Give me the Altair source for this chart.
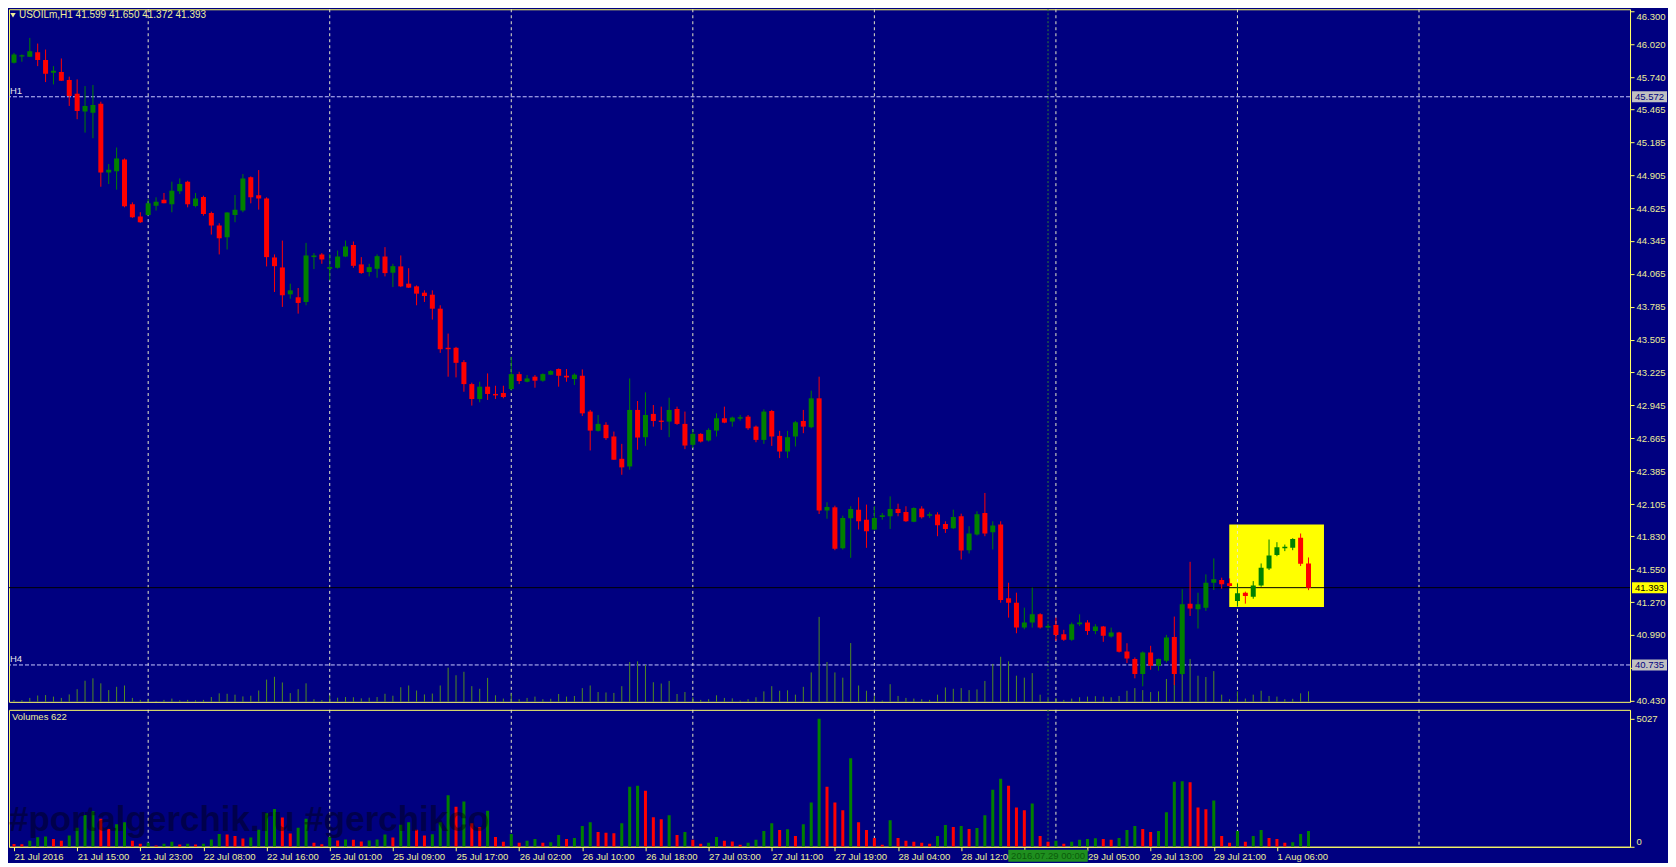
import altair as alt
import pandas as pd
import numpy as np

# ---------------- data ----------------
opens = [45.861, 45.915, 45.912, 45.952, 45.884, 45.776, 45.782, 45.714, 45.598, 45.446,
         45.437, 45.513, 44.928, 44.937, 45.038, 44.657, 44.552, 44.566, 44.645, 44.696,
         44.657, 44.767, 44.849, 44.642, 44.719, 44.583, 44.476, 44.377, 44.566, 44.603,
         44.886, 44.733, 44.707, 44.204, 44.119, 43.890, 43.865, 43.825, 44.207, 44.230,
         44.108, 44.116, 44.212, 44.311, 44.145, 44.080, 44.108, 44.212, 44.074, 44.128,
         43.981, 43.958, 43.904, 43.887, 43.768, 43.435, 43.435, 43.313, 43.126, 42.999,
         43.104, 43.042, 43.050, 43.084, 43.211, 43.146, 43.189, 43.155, 43.206, 43.254,
         43.197, 43.169, 43.197, 42.892, 42.728, 42.779, 42.680, 42.490, 42.425, 42.906,
         42.674, 42.872, 42.815, 42.807, 42.914, 42.787, 42.609, 42.702, 42.646, 42.730,
         42.835, 42.807, 42.832, 42.849, 42.764, 42.651, 42.897, 42.685, 42.552, 42.680,
         42.812, 42.759, 43.005, 42.050, 42.077, 41.729, 41.984, 42.057, 41.972, 41.888,
         41.995, 42.001, 42.063, 42.037, 41.955, 42.066, 42.006, 42.015, 41.936, 41.899,
         42.001, 41.712, 41.845, 42.029, 41.865, 41.930, 41.302, 41.265, 41.053, 41.096,
         41.166, 41.053, 41.076, 40.997, 40.949, 41.082, 41.096, 41.025, 41.062, 40.977,
         41.011, 40.850, 40.785, 40.657, 40.841, 40.728, 40.771, 40.974, 40.657, 41.257,
         41.209, 41.223, 41.435, 41.458, 41.430, 41.280, 41.350, 41.316, 41.412, 41.557,
         41.670, 41.729, 41.732, 41.817, 41.599]
highs = [45.946, 45.932, 46.073, 46.025, 45.974, 45.833, 45.898, 45.743, 45.720, 45.663,
         45.672, 45.530, 44.999, 45.140, 45.047, 44.673, 44.589, 44.702, 44.716, 44.753,
         44.849, 44.877, 44.857, 44.753, 44.730, 44.594, 44.495, 44.589, 44.736, 44.914,
         44.894, 44.948, 44.716, 44.230, 44.348, 43.981, 43.944, 44.328, 44.241, 44.241,
         44.235, 44.263, 44.348, 44.340, 44.207, 44.150, 44.230, 44.292, 44.150, 44.221,
         44.113, 43.966, 43.924, 43.924, 43.797, 43.556, 43.443, 43.330, 43.138, 43.146,
         43.217, 43.112, 43.112, 43.358, 43.231, 43.203, 43.203, 43.217, 43.245, 43.259,
         43.254, 43.217, 43.251, 42.906, 42.863, 42.801, 42.722, 42.617, 43.174, 42.982,
         43.056, 42.948, 42.934, 43.010, 42.934, 42.892, 42.742, 42.708, 42.750, 42.877,
         42.934, 42.849, 42.863, 42.863, 42.773, 42.911, 42.906, 42.728, 42.728, 42.812,
         42.906, 43.070, 43.189, 42.120, 42.091, 42.006, 42.086, 42.162, 42.100, 42.086,
         42.029, 42.170, 42.108, 42.086, 42.077, 42.086, 42.035, 42.035, 41.958, 42.057,
         42.023, 41.916, 42.043, 42.199, 41.958, 41.958, 41.435, 41.350, 41.223, 41.393,
         41.175, 41.087, 41.138, 41.034, 41.096, 41.166, 41.116, 41.082, 41.067, 41.053,
         41.017, 40.920, 40.799, 40.850, 40.898, 40.790, 40.991, 41.147, 41.379, 41.613,
         41.350, 41.506, 41.642, 41.478, 41.472, 41.430, 41.359, 41.449, 41.599, 41.803,
         41.780, 41.760, 41.814, 41.854, 41.650]
lows = [45.855, 45.870, 45.912, 45.833, 45.697, 45.677, 45.706, 45.494, 45.381, 45.267,
        45.219, 44.806, 44.829, 44.781, 44.631, 44.541, 44.498, 44.560, 44.603, 44.665,
        44.589, 44.744, 44.631, 44.631, 44.560, 44.399, 44.230, 44.272, 44.504, 44.589,
        44.665, 44.611, 44.128, 43.910, 43.783, 43.853, 43.726, 43.797, 44.105, 44.150,
        44.009, 44.108, 44.207, 44.116, 44.065, 44.043, 44.031, 44.043, 43.952, 43.952,
        43.944, 43.797, 43.825, 43.675, 43.392, 43.189, 43.183, 43.061, 42.943, 42.971,
        42.991, 42.999, 43.005, 43.070, 43.126, 43.141, 43.095, 43.146, 43.203, 43.104,
        43.146, 43.118, 42.855, 42.561, 42.722, 42.651, 42.482, 42.354, 42.397, 42.567,
        42.600, 42.764, 42.736, 42.674, 42.779, 42.572, 42.581, 42.629, 42.637, 42.680,
        42.793, 42.764, 42.815, 42.736, 42.631, 42.617, 42.600, 42.496, 42.496, 42.595,
        42.708, 42.750, 42.020, 41.980, 41.712, 41.718, 41.647, 41.888, 41.732, 41.882,
        41.972, 41.893, 42.001, 41.953, 41.950, 41.981, 41.987, 41.831, 41.859, 41.893,
        41.633, 41.684, 41.837, 41.831, 41.718, 41.265, 41.138, 41.005, 41.039, 41.053,
        41.045, 41.045, 40.940, 40.940, 40.940, 41.067, 40.991, 40.997, 40.932, 40.968,
        40.841, 40.751, 40.621, 40.553, 40.694, 40.686, 40.756, 40.564, 40.649, 41.152,
        41.045, 41.195, 41.373, 41.384, 41.401, 41.232, 41.257, 41.299, 41.401, 41.543,
        41.661, 41.704, 41.712, 41.577, 41.372]
closes = [45.932, 45.926, 45.960, 45.884, 45.768, 45.793, 45.709, 45.579, 45.451, 45.494,
          45.502, 44.928, 44.951, 45.047, 44.640, 44.546, 44.504, 44.665, 44.679, 44.665,
          44.772, 44.829, 44.657, 44.707, 44.574, 44.476, 44.368, 44.586, 44.611, 44.877,
          44.716, 44.707, 44.207, 44.130, 43.882, 43.924, 43.817, 44.221, 44.221, 44.187,
          44.122, 44.212, 44.297, 44.133, 44.071, 44.122, 44.215, 44.071, 44.130, 43.958,
          43.947, 43.896, 43.876, 43.768, 43.423, 43.423, 43.307, 43.126, 42.999, 43.104,
          43.042, 43.030, 43.016, 43.211, 43.152, 43.174, 43.155, 43.211, 43.237, 43.197,
          43.183, 43.206, 42.877, 42.730, 42.787, 42.666, 42.482, 42.417, 42.906, 42.671,
          42.863, 42.812, 42.804, 42.906, 42.787, 42.603, 42.702, 42.637, 42.736, 42.835,
          42.798, 42.841, 42.844, 42.750, 42.651, 42.892, 42.680, 42.552, 42.674, 42.801,
          42.764, 43.005, 42.050, 42.080, 41.724, 41.987, 42.063, 41.958, 41.873, 41.987,
          42.009, 42.063, 42.029, 41.958, 42.071, 41.992, 42.018, 41.924, 41.893, 41.995,
          41.709, 41.854, 42.018, 41.854, 41.922, 41.288, 41.265, 41.053, 41.096, 41.166,
          41.053, 41.067, 40.991, 40.949, 41.082, 41.096, 41.025, 41.062, 40.983, 41.011,
          40.847, 40.790, 40.657, 40.841, 40.728, 40.785, 40.968, 40.657, 41.251, 41.215,
          41.251, 41.435, 41.464, 41.421, 41.407, 41.345, 41.322, 41.412, 41.562, 41.667,
          41.738, 41.741, 41.808, 41.596, 41.393]
volumes = [110, 100, 232, 374, 400, 309, 232, 438, 748, 1250,
           1392, 1096, 696, 889, 967, 232, 116, 155, 52, 116,
           193, 90, 116, 90, 116, 284, 503, 477, 425, 322,
           361, 670, 1315, 1482, 1147, 516, 748, 1096, 155, 103,
           387, 245, 284, 271, 206, 245, 284, 477, 361, 864,
           967, 670, 438, 490, 967, 2024, 1573, 1779, 928, 773,
           1418, 387, 193, 503, 155, 232, 309, 155, 180, 464,
           309, 348, 812, 967, 580, 554, 528, 928, 2359, 2398,
           2204, 1160, 1083, 1237, 464, 580, 271, 116, 155, 387,
           232, 206, 77, 155, 271, 619, 928, 657, 683, 425,
           889, 1740, 5027, 2359, 1740, 1431, 3480, 967, 657, 348,
           77, 1044, 348, 232, 193, 155, 116, 425, 851, 773,
           812, 696, 735, 1237, 2243, 2668, 2398, 1547, 1431, 1701,
           425, 193, 232, 116, 193, 271, 309, 335, 309, 271,
           348, 657, 812, 696, 580, 619, 1353, 2552, 2578, 2539,
           1547, 1469, 1817, 425, 155, 619, 193, 425, 657, 348,
           309, 155, 180, 503, 622]

time_ticks = list(range(0, 161, 8))
time_labels = ["21 Jul 2016", "21 Jul 15:00", "21 Jul 23:00", "22 Jul 08:00", "22 Jul 16:00",
               "25 Jul 01:00", "25 Jul 09:00", "25 Jul 17:00", "26 Jul 02:00", "26 Jul 10:00",
               "26 Jul 18:00", "27 Jul 03:00", "27 Jul 11:00", "27 Jul 19:00", "28 Jul 04:00",
               "28 Jul 12:00", "28 Jul 20:00", "29 Jul 05:00", "29 Jul 13:00", "29 Jul 21:00",
               "1 Aug 06:00"]
price_ticks = [46.300, 46.020, 45.740, 45.465, 45.185, 44.905, 44.625, 44.345, 44.065,
               43.785, 43.505, 43.225, 42.945, 42.665, 42.385, 42.105, 41.830, 41.550,
               41.270, 40.990, 40.710, 40.430]
grid_idx = [17, 40, 63, 86, 109, 132, 155, 178]
hline_names = ["H1", "H4"]
hline_prices = [45.572, 40.735]
bid_price = 41.393
rect_idx = [153.96, 165.96]
rect_prices = [41.229, 41.930]
vline_idx = [131]
vline_label = ["2016.07.29 00:00"]
title_text = "USOILm,H1  41.599 41.650 41.372 41.393"
volume_title = "Volumes 622"
volume_axis_max = 5027
watermark = "#portalgerchik.ru #gerchikco"

# ---------------- style / layout ----------------
BG = "#000080"
FG = "#ffff66"
LABEL = "#eeee99"
GRID = "#e8e8c8"
HCOL = "#c8c8ff"
GREEN = "#008000"
RED = "#ff0000"
OVCOL = "#4f8a22"
FONT = "Liberation Sans"
FS = 9.5

W = 1622
H_PRICE = 693
H_VOL = 137
X_DOM = [0, 204.1]
P_DOM = [40.421, 46.317]
V_TOP_PX = 128
V_DOM = [0, volume_axis_max * H_VOL / V_TOP_PX]
OV_PX = 85
BOX_W = 35
BOX_H = 11
TBOX_W = 80

px_price = (P_DOM[1] - P_DOM[0]) / H_PRICE      # price units per pixel
px_idx = (X_DOM[1] - X_DOM[0]) / W              # bar units per pixel

# labels that the picture hides behind the object boxes
hidden_price = [p for p in price_ticks if abs(p - hline_prices[1]) < 0.04]
hidden_time = [t for t in time_ticks if 0 < vline_idx[0] - t < 6]

n = len(opens)
df = pd.DataFrame({"idx": np.arange(n), "o": opens, "h": highs, "l": lows,
                   "c": closes, "v": volumes})
df["dir"] = np.where(df.c > df.o, "up", "down")
df["blo"] = df[["o", "c"]].min(axis=1)
df["bhi"] = np.maximum(df[["o", "c"]].max(axis=1), df["blo"] + px_price)
df["vdir"] = np.where(df.v > df.v.shift(1), "up", "down")
k_ov = OV_PX * px_price / max(volumes)
df["ovb"] = P_DOM[0]
df["ovt"] = P_DOM[0] + df["v"] * k_ov

xs = alt.Scale(domain=X_DOM, nice=False, zero=False)
ys = alt.Scale(domain=P_DOM, nice=False, zero=False)
vs = alt.Scale(domain=V_DOM, nice=False, zero=False)
dir_color = alt.Color("dir:N", scale=alt.Scale(domain=["up", "down"], range=[GREEN, RED]), legend=None)

hid_p = " || ".join(f"abs(datum.value - {p}) < 0.0005" for p in hidden_price) or "false"
price_axis = alt.Axis(orient="right", values=price_ticks, title=None,
                      labelExpr=f"({hid_p}) ? '' : format(datum.value, '.3f')",
                      tickSize=4, labelPadding=2, labelColor=LABEL, labelFont=FONT,
                      labelFontSize=FS, domainColor=FG, tickColor=FG, grid=False,
                      labelOverlap=False, labelFlush=False,
                      labelBaseline={"condition": {"test": f"datum.value >= {max(price_ticks)}",
                                                   "value": "top"}, "value": "middle"})
shown_time = ["" if t in hidden_time else s for t, s in zip(time_ticks, time_labels)]
label_expr = "[" + ",".join(f"'{t}'" for t in shown_time) + "][round(datum.value / 8)]"
time_axis = alt.Axis(orient="bottom", values=time_ticks, labelExpr=label_expr, title=None,
                     tickSize=4, labelAlign="left", labelPadding=1, labelColor=LABEL,
                     labelFont=FONT, labelFontSize=FS, domainColor=FG, tickColor=FG,
                     grid=False, labelOverlap=False, labelFlush=False)
vol_axis = alt.Axis(orient="right", values=[0, volume_axis_max], format="d", title=None,
                    tickSize=4, labelPadding=2, labelColor=LABEL, labelFont=FONT,
                    labelFontSize=FS, domainColor=FG, tickColor=FG, grid=False,
                    labelBaseline={"condition": {"test": "datum.value == 0", "value": "bottom"},
                                   "value": "middle"})


def XP(f="idx"):
    return alt.X(f"{f}:Q", scale=xs, axis=None)


def YP(f):
    return alt.Y(f"{f}:Q", scale=ys, axis=price_axis)


def XV(f="idx"):
    return alt.X(f"{f}:Q", scale=xs, axis=time_axis)


# ---------------- price panel ----------------
rect_df = pd.DataFrame({"x1": [rect_idx[0]], "x2": [rect_idx[1]],
                        "p1": [rect_prices[0]], "p2": [rect_prices[1]]})
rect = alt.Chart(rect_df).mark_rect(color="#ffff00").encode(
    x=XP("x1"), x2="x2:Q", y=YP("p1"), y2="p2:Q")

grid_df = pd.DataFrame({"g": grid_idx})
grid_p = alt.Chart(grid_df).mark_rule(color=GRID, strokeDash=[3, 3], strokeWidth=1).encode(x=XP("g"))

vl_df = pd.DataFrame({"g": vline_idx, "lab": vline_label})
vl_df["g1"] = vl_df["g"] - TBOX_W / 2 * px_idx
vl_df["g2"] = vl_df["g"] + TBOX_W / 2 * px_idx
vline_p = alt.Chart(vl_df).mark_rule(color="#2e7d32", strokeDash=[2, 2], strokeWidth=1).encode(x=XP("g"))

hl_df = pd.DataFrame({"name": hline_names, "p": hline_prices})
hl = alt.Chart(hl_df).mark_rule(color=HCOL, strokeDash=[4, 2], strokeWidth=1).encode(y=YP("p"))
hl_txt = alt.Chart(hl_df).mark_text(align="left", baseline="bottom", dy=-1, color="#e8e8e8",
                                     font=FONT, fontSize=FS).encode(
    x=alt.value(1), y=YP("p"), text="name:N")

ov = alt.Chart(df).mark_rule(color=OVCOL, strokeWidth=1).encode(x=XP(), y=YP("ovb"), y2="ovt:Q")

bid_df = pd.DataFrame({"p": [bid_price]})
bid = alt.Chart(bid_df).mark_rule(color="#000000", strokeWidth=1).encode(y=YP("p"))

wicks = alt.Chart(df).mark_rule(strokeWidth=1, clip=True).encode(x=XP(), y=YP("l"), y2="h:Q", color=dir_color)
bodies = alt.Chart(df).mark_bar(size=5, clip=True).encode(x=XP(), y=YP("blo"), y2="bhi:Q", color=dir_color)

title_df = pd.DataFrame({"t": [title_text]})
tri = alt.Chart(title_df).mark_point(shape="triangle-down", filled=True, size=30, color=LABEL, opacity=1).encode(
    x=alt.value(4), y=alt.value(6))
title = alt.Chart(title_df).mark_text(align="left", baseline="middle", color=LABEL, font=FONT,
                                      fontSize=10).encode(x=alt.value(10), y=alt.value(6), text="t:N")

box_df = pd.DataFrame({"p": [hline_prices[0], bid_price, hline_prices[1]],
                       "lab": [f"{hline_prices[0]:.3f}", f"{bid_price:.3f}", f"{hline_prices[1]:.3f}"],
                       "bg": ["#c0c0c0", "#ffff00", "#c0c0c0"],
                       "fg": ["#000080", "#000000", "#000080"]})
box_df["p1"] = box_df["p"] - BOX_H / 2 * px_price
box_df["p2"] = box_df["p"] + BOX_H / 2 * px_price
boxes = alt.Chart(box_df).mark_rect(opacity=1).encode(
    x=alt.value(W + 2), x2=alt.value(W + 2 + BOX_W), y=YP("p1"), y2="p2:Q",
    color=alt.Color("bg:N", scale=None))
box_txt = alt.Chart(box_df).mark_text(align="center", baseline="middle", font=FONT, fontSize=FS).encode(
    x=alt.value(W + 2 + BOX_W / 2), y=YP("p"), text="lab:N", color=alt.Color("fg:N", scale=None))

price = alt.layer(rect, grid_p, vline_p, hl, ov, bid, wicks, bodies, hl_txt, tri, title,
                  boxes, box_txt).properties(width=W, height=H_PRICE)

# ---------------- volume panel ----------------
grid_v = alt.Chart(grid_df).mark_rule(color=GRID, strokeDash=[3, 3], strokeWidth=1).encode(x=XV("g"))
vline_v = alt.Chart(vl_df).mark_rule(color="#2e7d32", strokeDash=[2, 2], strokeWidth=1).encode(x=XV("g"))
vbars = alt.Chart(df).mark_bar(size=3, clip=True).encode(
    x=XV(),
    y=alt.Y("v:Q", scale=vs, axis=vol_axis),
    color=alt.Color("vdir:N", scale=alt.Scale(domain=["up", "down"], range=[GREEN, RED]), legend=None))
vt_df = pd.DataFrame({"t": [volume_title]})
vtitle = alt.Chart(vt_df).mark_text(align="left", baseline="middle", color=LABEL, font=FONT,
                                    fontSize=FS).encode(x=alt.value(3), y=alt.value(7), text="t:N")
wm_df = pd.DataFrame({"t": [watermark]})
wm = alt.Chart(wm_df).mark_text(align="left", baseline="middle", color="#000000", opacity=0.4,
                                font=FONT, fontSize=35, fontWeight="bold").encode(
    x=alt.value(0), y=alt.value(110), text="t:N")
tbox = alt.Chart(vl_df).mark_rect(opacity=1, color="#1f8f1f").encode(
    x=XV("g1"), x2="g2:Q", y=alt.value(H_VOL + 3), y2=alt.value(H_VOL + 15))
ttxt = alt.Chart(vl_df).mark_text(align="center", baseline="middle", color="#0b5d0b", font=FONT,
                                  fontSize=FS).encode(x=XV("g"), y=alt.value(H_VOL + 9), text="lab:N")

vol = alt.layer(grid_v, vline_v, vbars, vtitle, wm, tbox, ttxt).properties(width=W, height=H_VOL)

chart = alt.vconcat(price, vol, spacing=3).properties(
    background=BG, padding={"left": 0, "top": 0, "right": 0, "bottom": 0}
).configure_view(stroke=FG, strokeWidth=1)

chart.save("out.html", embed_options={"renderer": "svg", "actions": False})
